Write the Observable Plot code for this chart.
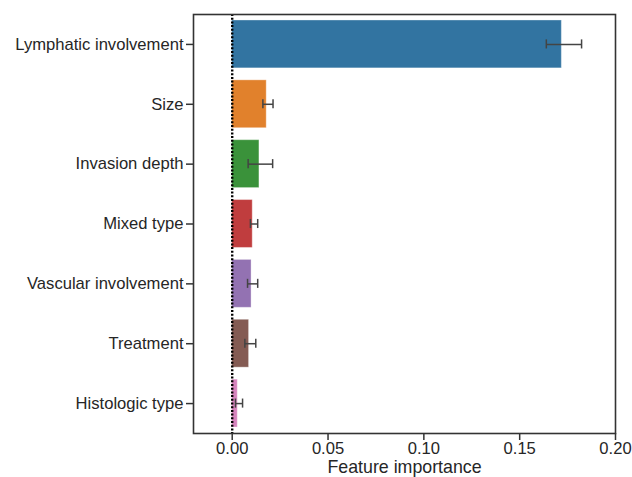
<!DOCTYPE html>
<html>
<head>
<meta charset="utf-8">
<script src="https://cdn.jsdelivr.net/npm/d3@7"></script>
<script src="https://cdn.jsdelivr.net/npm/@observablehq/plot@0.6"></script>
<style>
  html, body { margin: 0; padding: 0; background: #fff; }
  #chart svg { display: block; }
  #chart g[aria-label="x-axis label"] text { font-size: 17.8px; }
</style>
</head>
<body>
<div id="chart"></div>
<script>
const features = ["Lymphatic involvement", "Size", "Invasion depth", "Mixed type", "Vascular involvement", "Treatment", "Histologic type"];
const importance = [0.172, 0.018, 0.0142, 0.0107, 0.0101, 0.0088, 0.0029];
const errLow = [0.1639, 0.0160, 0.0083, 0.0095, 0.0080, 0.0066, 0.0017];
const errHigh = [0.1823, 0.0213, 0.0211, 0.0133, 0.0133, 0.0123, 0.0054];
const colors = ["#3274a1", "#e1812c", "#3a923a", "#c03d3e", "#9372b2", "#845b53", "#d684bd"];
const xTicks = [0, 0.05, 0.10, 0.15, 0.20];

const data = features.map((f, i) => ({feature: f, value: importance[i], lo: errLow[i], hi: errHigh[i], color: colors[i]}));

const font = "'Liberation Sans', Arial, Helvetica, sans-serif";
const ink = "#262626";

const chart = Plot.plot({
  width: 632,
  height: 477,
  marginLeft: 193,
  marginRight: 17,
  marginTop: 14,
  marginBottom: 44,
  style: {fontFamily: font, fontSize: "16.6px", color: ink, background: "#fff"},
  x: {domain: [-0.0202, 0.2], ticks: xTicks, tickFormat: d3.format(".2f")},
  y: {domain: features, paddingInner: 0.2, paddingOuter: 0.1, round: false},
  color: {type: "identity"},
  marks: [
    Plot.barX(data, {x1: 0, x2: "value", y: "feature", fill: "color", stroke: "white", strokeOpacity: 0.35, strokeWidth: 1}),
    Plot.ruleX([0], {stroke: "#000", strokeWidth: 2.4, strokeDasharray: "2,1.7"}),
    Plot.link(data, {x1: "lo", x2: "hi", y1: "feature", y2: "feature", stroke: "#444", strokeWidth: 1.5}),
    Plot.tickX(data, {x: "lo", y: "feature", stroke: "#444", strokeWidth: 1.5, insetTop: 19.4, insetBottom: 19.4}),
    Plot.tickX(data, {x: "hi", y: "feature", stroke: "#444", strokeWidth: 1.5, insetTop: 19.4, insetBottom: 19.4}),
    Plot.frame({stroke: "#333", strokeWidth: 1.6}),
    Plot.axisX({ticks: xTicks, tickFormat: d3.format(".2f"), tickSize: 7, tickPadding: 2, strokeWidth: 1.5, stroke: "#333", fill: ink, label: "Feature importance", labelAnchor: "center", labelArrow: "none", labelOffset: 39.5, fontSize: 16.6}),
    Plot.axisY({tickSize: 7, tickPadding: 3, strokeWidth: 1.5, stroke: "#333", fill: ink, label: null, fontSize: 16.6})
  ]
});

document.getElementById("chart").appendChild(chart);
</script>
</body>
</html>
